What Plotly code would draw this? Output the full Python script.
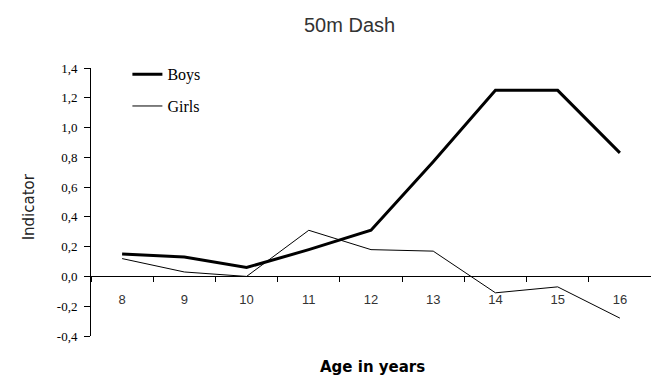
import plotly.graph_objects as go

ages = ["8", "9", "10", "11", "12", "13", "14", "15", "16"]
boys = [0.15, 0.13, 0.06, 0.18, 0.31, 0.77, 1.25, 1.25, 0.83]
girls = [0.12, 0.03, 0.0, 0.31, 0.18, 0.17, -0.11, -0.07, -0.28]
y_ticks = [-0.4, -0.2, 0.0, 0.2, 0.4, 0.6, 0.8, 1.0, 1.2, 1.4]
y_tick_labels = ["-0,4", "-0,2", "0,0", "0,2", "0,4", "0,6", "0,8", "1,0", "1,2", "1,4"]

fig = go.Figure()
fig.add_trace(go.Scatter(x=ages, y=boys, mode="lines", name="Boys",
                         legendgroup="b", line=dict(color="black", width=3)))
fig.add_trace(go.Scatter(x=ages, y=girls, mode="lines", name="Girls",
                         legendgroup="g", line=dict(color="black", width=1)))

ymin, ymax = -0.4, 1.4
zero_pos = (0 - ymin) / (ymax - ymin)

# page body has an 8px default margin, so size the figure to compensate
fig.update_layout(
    width=651, height=369,
    margin=dict(l=83, r=8, t=60, b=41),
    paper_bgcolor="white", plot_bgcolor="white",
    separators=", ",
    showlegend=True,
    legend=dict(x=0.065, y=1.04, xanchor="left", yanchor="top",
                font=dict(family="Liberation Serif", size=16, color="black"),
                tracegroupgap=8, bgcolor="rgba(0,0,0,0)"),
    xaxis=dict(type="category", range=[-0.5, 8.5], anchor="free", position=zero_pos,
               showline=True, linecolor="black", linewidth=1,
               ticks="outside", tickson="boundaries", ticklen=5, tickcolor="black",
               ticklabelstandoff=11,
               showgrid=False, zeroline=False,
               tickfont=dict(family="Liberation Sans", size=13, color="#333")),
    yaxis=dict(range=[ymin, ymax], tickvals=y_ticks, ticktext=y_tick_labels,
               showline=True, linecolor="black", linewidth=1,
               ticks="outside", ticklen=6, tickcolor="black",
               ticklabelstandoff=4,
               showgrid=False, zeroline=False,
               tickfont=dict(family="Liberation Serif", size=13, color="black")),
    annotations=[
        dict(text="50m Dash", xref="paper", yref="paper", x=0.461, y=1.0,
             yshift=43, showarrow=False, xanchor="center", yanchor="middle",
             font=dict(family="Liberation Sans", size=20, color="#333")),
        dict(text="Indicator", xref="paper", yref="paper", x=0, xshift=-73,
             y=0.48, textangle=-90, showarrow=False,
             font=dict(family="DejaVu Sans", size=15, color="#222")),
        dict(text="<b>Age in years</b>", xref="paper", yref="paper", x=0.502,
             y=0, yshift=-31, showarrow=False, xanchor="center", yanchor="middle",
             font=dict(family="DejaVu Sans", size=15, color="black")),
    ],
)

fig.write_html("out.html")
